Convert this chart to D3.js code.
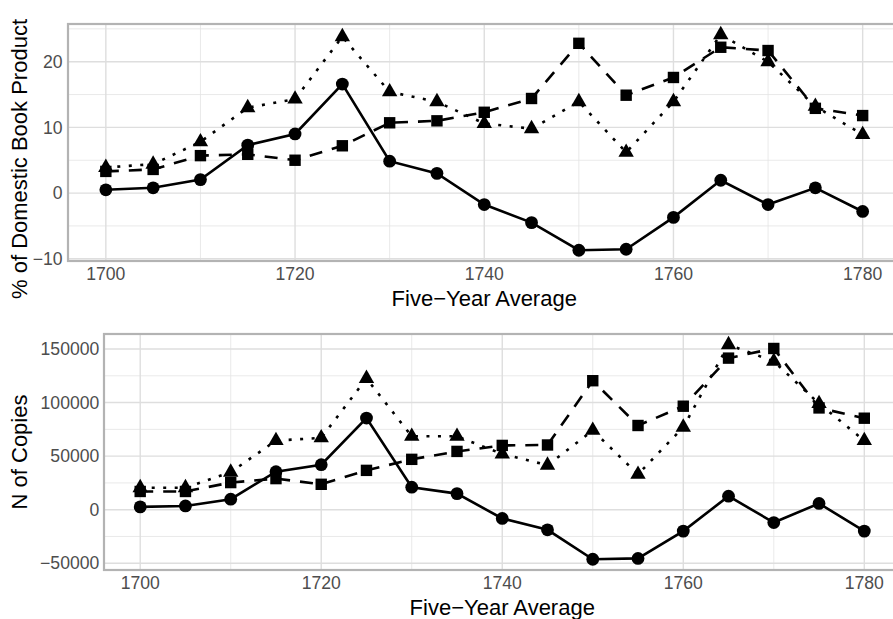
<!DOCTYPE html>
<html>
<head>
<meta charset="utf-8">
<script src="https://cdn.jsdelivr.net/npm/d3@7"></script>
<style>
  body { margin: 0; background: #fff; }
  svg { display: block; font-family: "Liberation Sans", Arial, Helvetica, sans-serif; }
  .tick-label { fill: #4d4d4d; font-size: 17.6px; }
  .axis-title { fill: #000; font-size: 22px; }
</style>
</head>
<body>
<svg id="chart"></svg>
<script>
// five-year averages
const years = [1700, 1705, 1710, 1715, 1720, 1725, 1730, 1735, 1740, 1745, 1750, 1755, 1760, 1765, 1770, 1775, 1780];

// top panel: % of domestic book product
const pctCircles   = [0.5, 0.8, 2.05, 7.3, 9.0, 16.6, 4.85, 3.0, -1.75, -4.5, -8.7, -8.55, -3.7, 1.95, -1.75, 0.8, -2.8];
const pctSquares   = [3.3, 3.6, 5.7, 5.9, 5.0, 7.2, 10.7, 11.0, 12.3, 14.4, 22.8, 14.9, 17.6, 22.2, 21.7, 12.9, 11.8];
const pctTriangles = [3.9, 4.4, 7.8, 13.0, 14.3, 23.8, 15.4, 13.9, 10.6, 9.8, 13.9, 6.2, 13.9, 24.1, 20.0, 13.2, 8.9];

// bottom panel: N of copies
const copiesCircles   = [2600, 3500, 9800, 35500, 42000, 85500, 21000, 15000, -8200, -18800, -46300, -45500, -20000, 12600, -12000, 5800, -20000];
const copiesSquares   = [17000, 17000, 25300, 29000, 23700, 36700, 47000, 54400, 60000, 60400, 120400, 78600, 96600, 141500, 150500, 95000, 85400];
const copiesTriangles = [20500, 20500, 35000, 64500, 67000, 122500, 68500, 68500, 52000, 41500, 74000, 33000, 77000, 154000, 138500, 99000, 64500];

const xTicks = [1700, 1720, 1740, 1760, 1780];
const xMinor = [1710, 1730, 1750, 1770];
const pctTicks = [-10, 0, 10, 20];
const pctMinor = [-5, 5, 15, 25];
const copiesTicks = [-50000, 0, 50000, 100000, 150000];
const copiesMinor = [-25000, 25000, 75000, 125000];

const seriesStyle = {
  circle:   { dash: null },
  square:   { dash: '13 10' },
  triangle: { dash: '3 8.5' }
};

class LineChart {
  constructor(_config, _data) {
    this.config = {
      parentElement: _config.parentElement,
      left: _config.left,
      right: _config.right,
      top: _config.top,
      bottom: _config.bottom,
      yTicks: _config.yTicks,
      yMinor: _config.yMinor,
      yTitle: _config.yTitle,
      yTitleY: _config.yTitleY || (_config.top + _config.bottom) / 2,
      yLabelGap: _config.yLabelGap || 5
    };
    this.data = _data;
    this.initVis();
  }

  initVis() {
    let vis = this;
    const c = vis.config;

    vis.xScale = d3.scaleLinear()
        .domain([1696, 1784])
        .range([c.left, c.right]);

    // ggplot style 5% expansion on both ends
    const allY = vis.data.flatMap(s => s.values);
    const [lo, hi] = d3.extent(allY);
    const pad = (hi - lo) * 0.05;
    vis.yScale = d3.scaleLinear()
        .domain([lo - pad, hi + pad])
        .range([c.bottom, c.top]);

    vis.g = d3.select(c.parentElement).append('g');

    // panel clip so gridlines stay inside
    vis.clipId = 'clip' + Math.round(c.top);
    vis.g.append('clipPath').attr('id', vis.clipId)
      .append('rect')
        .attr('x', c.left).attr('y', c.top)
        .attr('width', c.right - c.left).attr('height', c.bottom - c.top);

    vis.grid = vis.g.append('g').attr('clip-path', `url(#${vis.clipId})`);
    vis.chart = vis.g.append('g');

    vis.renderVis();
  }

  renderVis() {
    let vis = this;
    const c = vis.config;

    // minor gridlines
    vis.grid.selectAll('.xminor')
        .data(xMinor)
        .join('line')
        .attr('x1', d => vis.xScale(d)).attr('x2', d => vis.xScale(d))
        .attr('y1', c.top).attr('y2', c.bottom)
        .attr('stroke', '#e3e3e3').attr('stroke-width', 0.8);
    vis.grid.selectAll('.yminor')
        .data(c.yMinor)
        .join('line')
        .attr('x1', c.left).attr('x2', c.right)
        .attr('y1', d => vis.yScale(d)).attr('y2', d => vis.yScale(d))
        .attr('stroke', '#e3e3e3').attr('stroke-width', 0.8);

    // major gridlines
    vis.grid.selectAll('.xmajor')
        .data(xTicks)
        .join('line')
        .attr('x1', d => vis.xScale(d)).attr('x2', d => vis.xScale(d))
        .attr('y1', c.top).attr('y2', c.bottom)
        .attr('stroke', '#dedede').attr('stroke-width', 1.4);
    vis.grid.selectAll('.ymajor')
        .data(c.yTicks)
        .join('line')
        .attr('x1', c.left).attr('x2', c.right)
        .attr('y1', d => vis.yScale(d)).attr('y2', d => vis.yScale(d))
        .attr('stroke', '#dedede').attr('stroke-width', 1.4);

    // lines
    const line = d3.line()
        .x((d, i) => vis.xScale(years[i]))
        .y(d => vis.yScale(d));

    vis.chart.selectAll('.series-line')
        .data(vis.data)
        .join('path')
        .attr('class', 'series-line')
        .attr('d', d => line(d.values))
        .attr('fill', 'none')
        .attr('stroke', '#000')
        .attr('stroke-width', 2.6)
        .attr('stroke-dasharray', d => seriesStyle[d.shape].dash);

    // points
    vis.data.forEach(s => {
      const pts = s.values.map((v, i) => ({ x: vis.xScale(years[i]), y: vis.yScale(v) }));
      if (s.shape === 'circle') {
        vis.chart.append('g').selectAll('circle')
            .data(pts).join('circle')
            .attr('cx', d => d.x).attr('cy', d => d.y).attr('r', 6.4)
            .attr('fill', '#000');
      } else if (s.shape === 'square') {
        vis.chart.append('g').selectAll('rect')
            .data(pts).join('rect')
            .attr('x', d => d.x - 5.7).attr('y', d => d.y - 5.7)
            .attr('width', 11.4).attr('height', 11.4)
            .attr('fill', '#000');
      } else {
        vis.chart.append('g').selectAll('path')
            .data(pts).join('path')
            .attr('d', d => `M${d.x},${d.y - 8.9}L${d.x + 7.7},${d.y + 4.45}L${d.x - 7.7},${d.y + 4.45}Z`)
            .attr('fill', '#000');
      }
    });

    // panel border
    vis.g.append('rect')
        .attr('x', c.left).attr('y', c.top)
        .attr('width', c.right - c.left).attr('height', c.bottom - c.top)
        .attr('fill', 'none')
        .attr('stroke', '#b3b3b3')
        .attr('stroke-width', 2.2);

    // tick labels
    const fmt = d3.format('d');
    vis.g.selectAll('.xlab')
        .data(xTicks)
        .join('text')
        .attr('class', 'tick-label')
        .attr('x', d => vis.xScale(d))
        .attr('y', c.bottom + 18.8)
        .attr('text-anchor', 'middle')
        .text(d => d);
    vis.g.selectAll('.ylab')
        .data(c.yTicks)
        .join('text')
        .attr('class', 'tick-label')
        .attr('x', c.left - c.yLabelGap)
        .attr('y', d => vis.yScale(d))
        .attr('dy', '0.35em')
        .attr('text-anchor', 'end')
        .text(d => fmt(d));

    // axis titles
    vis.g.append('text')
        .attr('class', 'axis-title')
        .attr('x', (c.left + c.right) / 2)
        .attr('y', c.bottom + 45)
        .attr('text-anchor', 'middle')
        .text('Five\u2212Year Average');
    vis.g.append('text')
        .attr('class', 'axis-title')
        .attr('transform', `translate(26.5,${c.yTitleY}) rotate(-90)`)
        .attr('text-anchor', 'middle')
        .text(c.yTitle);
  }
}

const svg = d3.select('#chart')
    .attr('width', 893)
    .attr('height', 619);

new LineChart({
  parentElement: '#chart',
  left: 68, right: 900.5, top: 24, bottom: 261,
  yTicks: pctTicks, yMinor: pctMinor,
  yTitle: '% of Domestic Book Product',
  yTitleY: 159,
  yLabelGap: 5.5
}, [
  { shape: 'circle', values: pctCircles },
  { shape: 'square', values: pctSquares },
  { shape: 'triangle', values: pctTriangles }
]);

new LineChart({
  parentElement: '#chart',
  left: 104, right: 900.5, top: 334, bottom: 570,
  yTicks: copiesTicks, yMinor: copiesMinor,
  yTitle: 'N of Copies',
  yLabelGap: 4.7
}, [
  { shape: 'circle', values: copiesCircles },
  { shape: 'square', values: copiesSquares },
  { shape: 'triangle', values: copiesTriangles }
]);
</script>
</body>
</html>
